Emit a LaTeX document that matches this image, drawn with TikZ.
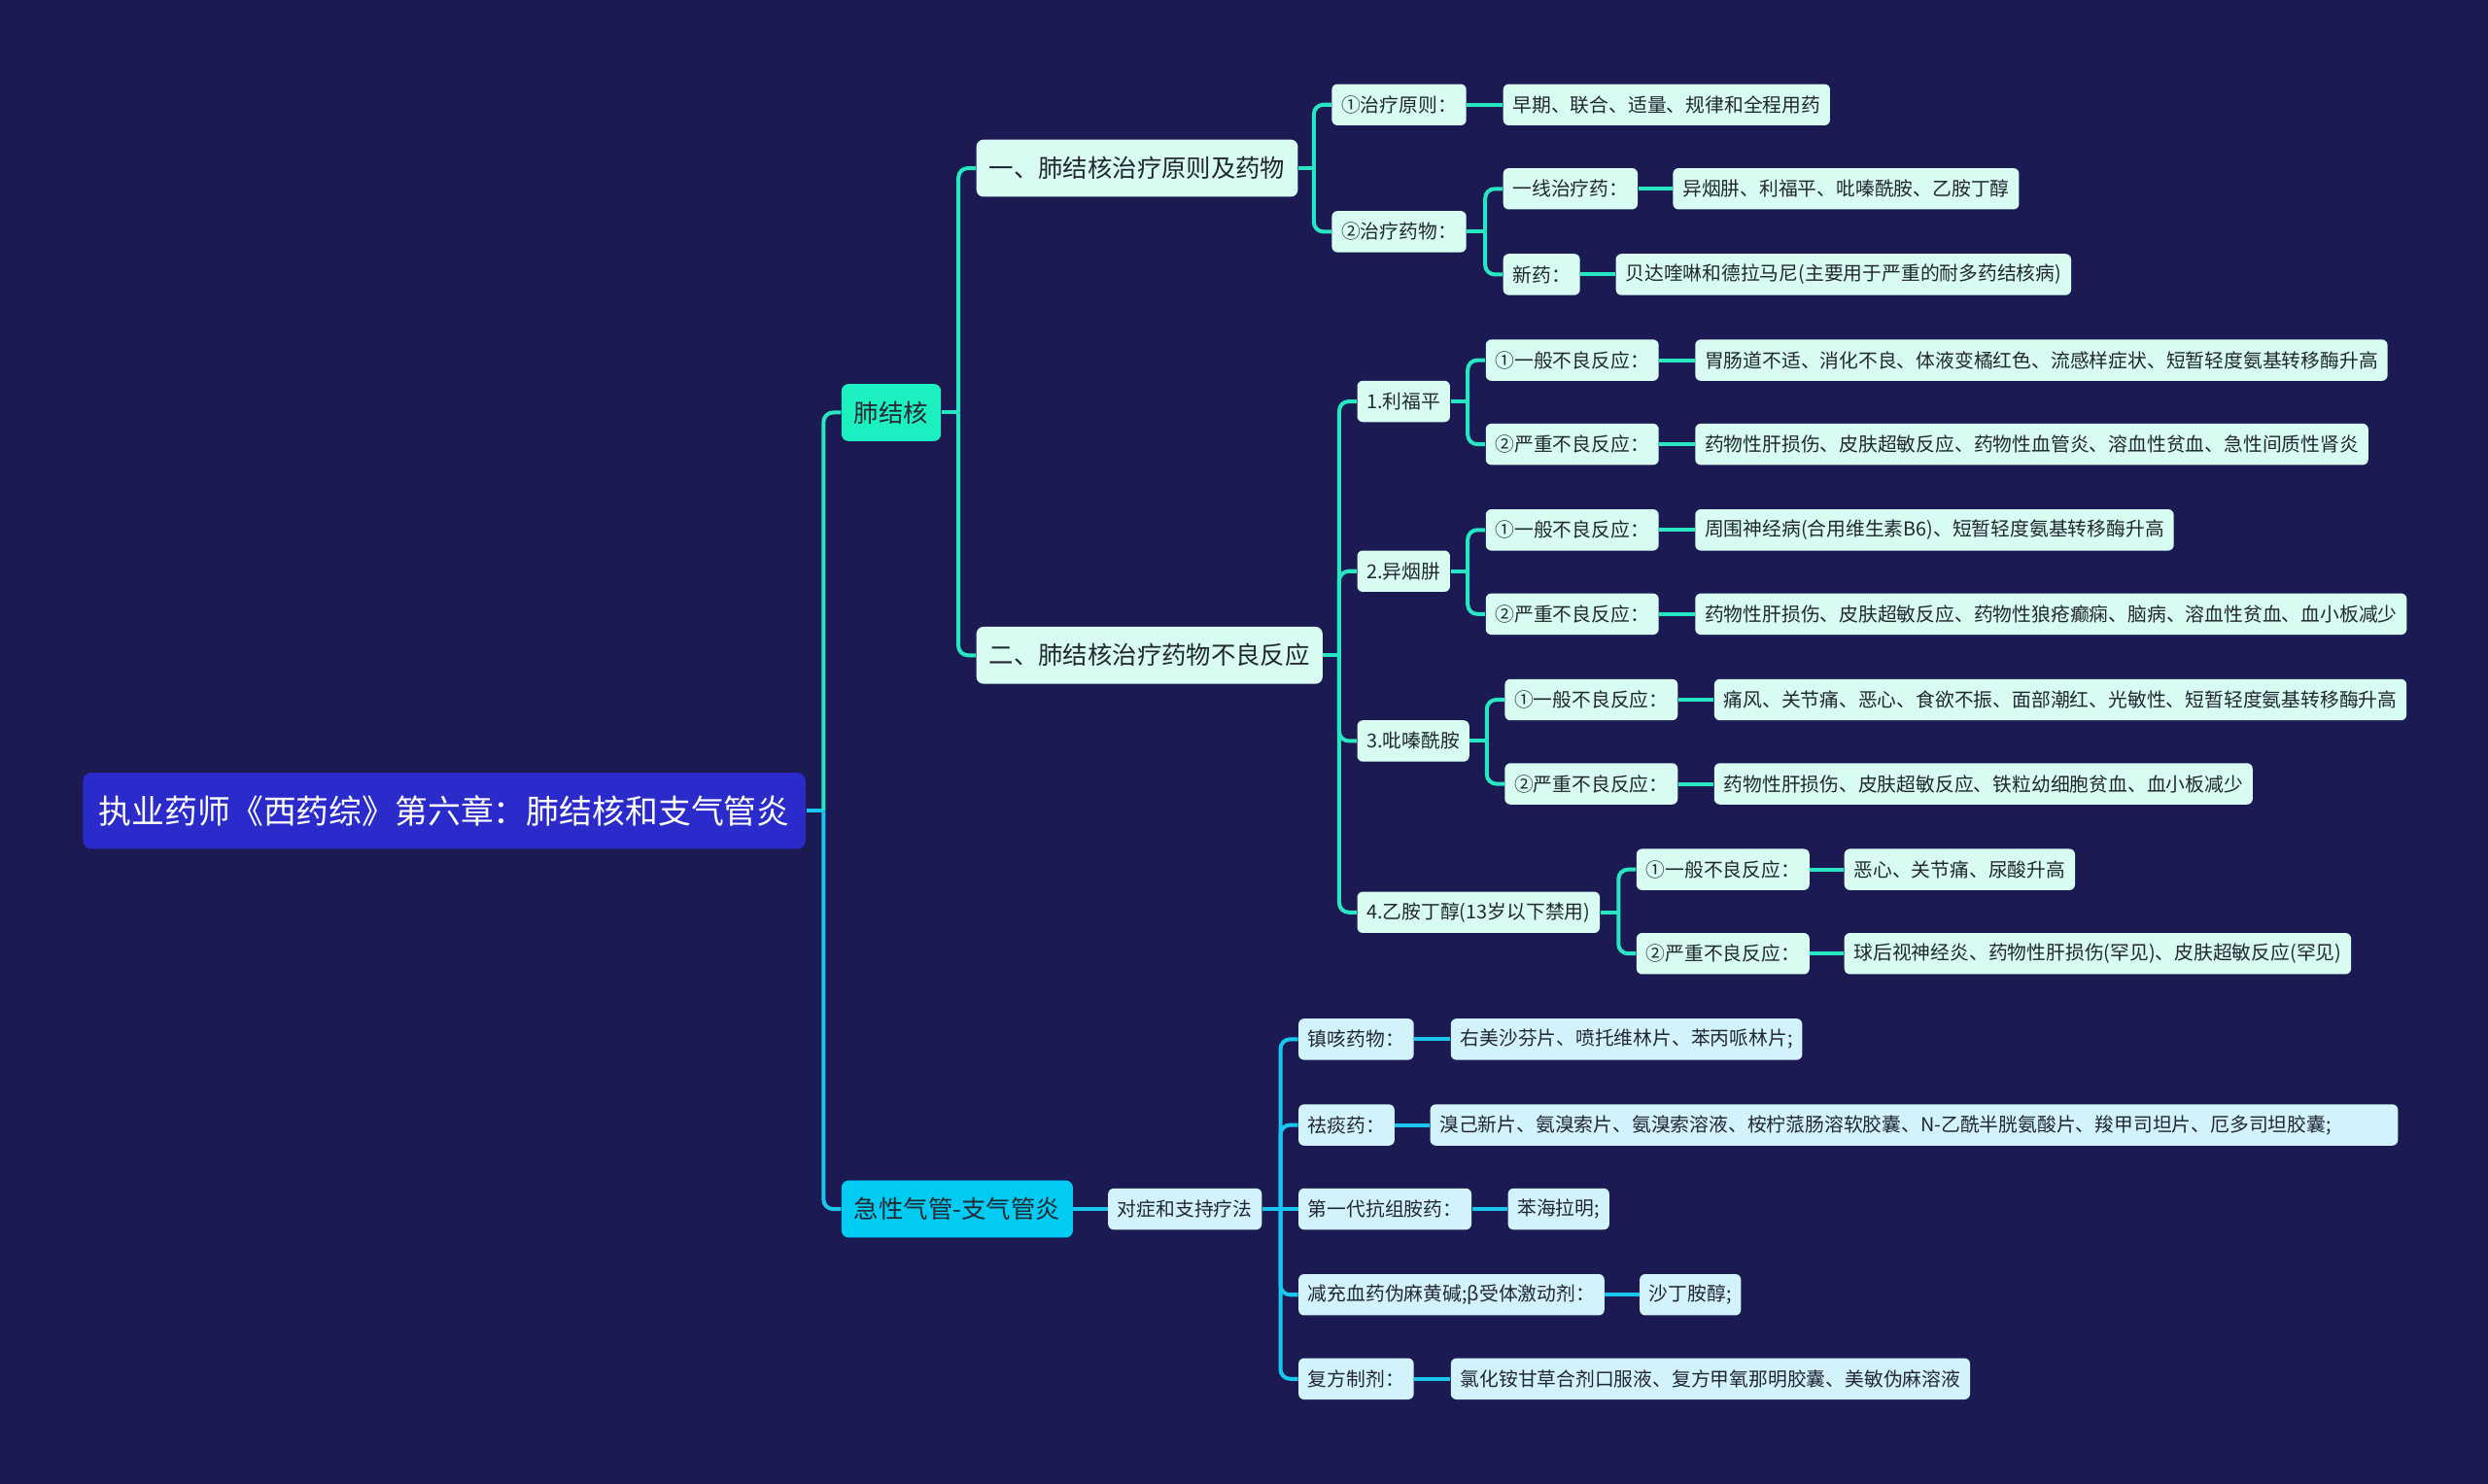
\documentclass[tikz,border=0pt]{standalone}
\usepackage{fontspec}
\newfontfamily\cjk{Noto Sans CJK SC}
\usetikzlibrary{calc}

\definecolor{bgnavy}{HTML}{1B1A52}
\definecolor{rootblue}{HTML}{2B2BCB}
\definecolor{tealmain}{HTML}{1DF0C0}
\definecolor{tealline}{HTML}{28E6C2}
\definecolor{mintfill}{HTML}{D8FCF2}
\definecolor{cyanmain}{HTML}{00CBF2}
\definecolor{cyanline}{HTML}{18C6EE}
\definecolor{icefill}{HTML}{D3F3FC}
\definecolor{inktext}{HTML}{222831}

\tikzset{
  mm-root/.style={anchor=west, rectangle, rounded corners=3pt, fill=rootblue, text=white,
    font=\cjk\fontsize{11.8}{14}\selectfont, minimum height=0.96cm, inner xsep=0.2cm, inner ysep=0pt},
  mm-main-a/.style={anchor=west, rectangle, rounded corners=2.5pt, fill=tealmain, text=inktext,
    font=\cjk\fontsize{8.85}{11}\selectfont, minimum height=0.72cm, inner xsep=0.16cm, inner ysep=0pt},
  mm-main-b/.style={mm-main-a, fill=cyanmain},
  mm-sub-a/.style={mm-main-a, fill=mintfill},
  mm-leaf-a/.style={anchor=west, rectangle, rounded corners=2pt, fill=mintfill, text=inktext,
    font=\cjk\fontsize{6.9}{9}\selectfont, minimum height=0.52cm, inner xsep=0.12cm, inner ysep=0pt},
  mm-leaf-b/.style={mm-leaf-a, fill=icefill},
  mm-line-a/.style={draw=tealline, line width=1.4pt, rounded corners=0.12cm},
  mm-line-b/.style={draw=cyanline, line width=1.4pt, rounded corners=0.12cm},
}

\begin{document}
\begin{tikzpicture}[x=0.02cm, y=-0.02cm]

    % Canvas
    \fill[bgnavy] (0,0) rectangle (1568,935);
    \useasboundingbox (0,0) rectangle (1568,935);

    % Nodes: root and main topics
    \node[mm-root]   (root) at (52, 511)  {执业药师《西药综》第六章：肺结核和支气管炎};
    \node[mm-main-a] (fjh)  at (530, 260) {肺结核};
    \node[mm-main-b] (jxq)  at (530, 762) {急性气管-支气管炎};

    % Nodes: tuberculosis, part one
    \node[mm-sub-a]  (t1)   at (615, 106)  {一、肺结核治疗原则及药物};
    \node[mm-leaf-a] (a1)   at (839, 66)   {①治疗原则：};
    \node[mm-leaf-a] (a1x)  at (947, 66)   {早期、联合、适量、规律和全程用药};
    \node[mm-leaf-a] (a2)   at (839, 146)  {②治疗药物：};
    \node[mm-leaf-a] (a21)  at (947, 119)  {一线治疗药：};
    \node[mm-leaf-a] (a21x) at (1054, 119) {异烟肼、利福平、吡嗪酰胺、乙胺丁醇};
    \node[mm-leaf-a] (a22)  at (947, 173)  {新药：};
    \node[mm-leaf-a] (a22x) at (1018, 173) {贝达喹啉和德拉马尼(主要用于严重的耐多药结核病)};

    % Nodes: tuberculosis, part two
    \node[mm-sub-a]  (t2)   at (615, 413)  {二、肺结核治疗药物不良反应};
    \node[mm-leaf-a] (d1)   at (855, 253)  {1.利福平};
    \node[mm-leaf-a] (d1a)  at (936, 227)  {①一般不良反应：};
    \node[mm-leaf-a] (d1ax) at (1068, 227) {胃肠道不适、消化不良、体液变橘红色、流感样症状、短暂轻度氨基转移酶升高};
    \node[mm-leaf-a] (d1b)  at (936, 280)  {②严重不良反应：};
    \node[mm-leaf-a] (d1bx) at (1068, 280) {药物性肝损伤、皮肤超敏反应、药物性血管炎、溶血性贫血、急性间质性肾炎};
    \node[mm-leaf-a] (d2)   at (855, 360)  {2.异烟肼};
    \node[mm-leaf-a] (d2a)  at (936, 334)  {①一般不良反应：};
    \node[mm-leaf-a] (d2ax) at (1068, 334) {周围神经病(合用维生素B6)、短暂轻度氨基转移酶升高};
    \node[mm-leaf-a] (d2b)  at (936, 387)  {②严重不良反应：};
    \node[mm-leaf-a] (d2bx) at (1068, 387) {药物性肝损伤、皮肤超敏反应、药物性狼疮癫痫、脑病、溶血性贫血、血小板减少};
    \node[mm-leaf-a] (d3)   at (855, 467)  {3.吡嗪酰胺};
    \node[mm-leaf-a] (d3a)  at (948, 441)  {①一般不良反应：};
    \node[mm-leaf-a] (d3ax) at (1080, 441) {痛风、关节痛、恶心、食欲不振、面部潮红、光敏性、短暂轻度氨基转移酶升高};
    \node[mm-leaf-a] (d3b)  at (948, 494)  {②严重不良反应：};
    \node[mm-leaf-a] (d3bx) at (1080, 494) {药物性肝损伤、皮肤超敏反应、铁粒幼细胞贫血、血小板减少};
    \node[mm-leaf-a] (d4)   at (855, 575)  {4.乙胺丁醇(13岁以下禁用)};
    \node[mm-leaf-a] (d4a)  at (1031, 548) {①一般不良反应：};
    \node[mm-leaf-a] (d4ax) at (1162, 548) {恶心、关节痛、尿酸升高};
    \node[mm-leaf-a] (d4b)  at (1031, 601) {②严重不良反应：};
    \node[mm-leaf-a] (d4bx) at (1162, 601) {球后视神经炎、药物性肝损伤(罕见)、皮肤超敏反应(罕见)};

    % Nodes: bronchitis
    \node[mm-leaf-b] (s0)   at (698, 762)  {对症和支持疗法};
    \node[mm-leaf-b] (s1)   at (818, 655)  {镇咳药物：};
    \node[mm-leaf-b] (s1x)  at (914, 655)  {右美沙芬片、喷托维林片、苯丙哌林片;};
    \node[mm-leaf-b] (s2)   at (818, 709)  {祛痰药：};
    \node[mm-leaf-b, minimum width=12.2cm, align=left, text width=11.96cm]
                     (s2x)  at (901, 709)  {溴己新片、氨溴索片、氨溴索溶液、桉柠蒎肠溶软胶囊、N-乙酰半胱氨酸片、羧甲司坦片、厄多司坦胶囊;};
    \node[mm-leaf-b] (s3)   at (818, 762)  {第一代抗组胺药：};
    \node[mm-leaf-b] (s3x)  at (950, 762)  {苯海拉明;};
    \node[mm-leaf-b] (s4)   at (818, 816)  {减充血药伪麻黄碱;β受体激动剂：};
    \node[mm-leaf-b] (s4x)  at (1033, 816) {沙丁胺醇;};
    \node[mm-leaf-b] (s5)   at (818, 869)  {复方制剂：};
    \node[mm-leaf-b] (s5x)  at (914, 869)  {氯化铵甘草合剂口服液、复方甲氧那明胶囊、美敏伪麻溶液};

    % Junctions: one per parent with several children
    \coordinate (j0)   at ($(root.east -| fjh.west)+(-11,0)$);
    \coordinate (jfjh) at ($(fjh.east -| t1.west)+(-11,0)$);
    \coordinate (jt1)  at ($(t1.east -| a1.west)+(-11,0)$);
    \coordinate (ja2)  at ($(a2.east -| a21.west)+(-11,0)$);
    \coordinate (jt2)  at ($(t2.east -| d1.west)+(-11,0)$);
    \coordinate (jd1)  at ($(d1.east -| d1a.west)+(-11,0)$);
    \coordinate (jd2)  at ($(d2.east -| d2a.west)+(-11,0)$);
    \coordinate (jd3)  at ($(d3.east -| d3a.west)+(-11,0)$);
    \coordinate (jd4)  at ($(d4.east -| d4a.west)+(-11,0)$);
    \coordinate (js0)  at ($(s0.east -| s1.west)+(-11,0)$);

    % Edges: root to main topics
    \draw[mm-line-b] (root.east) -- (j0);
    \draw[mm-line-a] (j0) |- (fjh.west);
    \draw[mm-line-b] (j0) |- (jxq.west);

    % Edges: tuberculosis
    \draw[mm-line-a] (fjh.east) -- (jfjh);
    \draw[mm-line-a] (jfjh) |- (t1.west);
    \draw[mm-line-a] (jfjh) |- (t2.west);

    \draw[mm-line-a] (t1.east) -- (jt1);
    \draw[mm-line-a] (jt1) |- (a1.west);
    \draw[mm-line-a] (jt1) |- (a2.west);
    \draw[mm-line-a] (a1.east) -- (a1x.west);
    \draw[mm-line-a] (a2.east) -- (ja2);
    \draw[mm-line-a] (ja2) |- (a21.west);
    \draw[mm-line-a] (ja2) |- (a22.west);
    \draw[mm-line-a] (a21.east) -- (a21x.west);
    \draw[mm-line-a] (a22.east) -- (a22x.west);

    \draw[mm-line-a] (t2.east) -- (jt2);
    \draw[mm-line-a] (jt2) |- (d1.west);
    \draw[mm-line-a] (jt2) |- (d2.west);
    \draw[mm-line-a] (jt2) |- (d3.west);
    \draw[mm-line-a] (jt2) |- (d4.west);

    \draw[mm-line-a] (d1.east) -- (jd1);
    \draw[mm-line-a] (jd1) |- (d1a.west);
    \draw[mm-line-a] (jd1) |- (d1b.west);
    \draw[mm-line-a] (d1a.east) -- (d1ax.west);
    \draw[mm-line-a] (d1b.east) -- (d1bx.west);

    \draw[mm-line-a] (d2.east) -- (jd2);
    \draw[mm-line-a] (jd2) |- (d2a.west);
    \draw[mm-line-a] (jd2) |- (d2b.west);
    \draw[mm-line-a] (d2a.east) -- (d2ax.west);
    \draw[mm-line-a] (d2b.east) -- (d2bx.west);

    \draw[mm-line-a] (d3.east) -- (jd3);
    \draw[mm-line-a] (jd3) |- (d3a.west);
    \draw[mm-line-a] (jd3) |- (d3b.west);
    \draw[mm-line-a] (d3a.east) -- (d3ax.west);
    \draw[mm-line-a] (d3b.east) -- (d3bx.west);

    \draw[mm-line-a] (d4.east) -- (jd4);
    \draw[mm-line-a] (jd4) |- (d4a.west);
    \draw[mm-line-a] (jd4) |- (d4b.west);
    \draw[mm-line-a] (d4a.east) -- (d4ax.west);
    \draw[mm-line-a] (d4b.east) -- (d4bx.west);

    % Edges: bronchitis
    \draw[mm-line-b] (jxq.east) -- (s0.west);
    \draw[mm-line-b] (s0.east) -- (js0);
    \draw[mm-line-b] (js0) |- (s1.west);
    \draw[mm-line-b] (js0) |- (s2.west);
    \draw[mm-line-b] (js0) -- (s3.west);
    \draw[mm-line-b] (js0) |- (s4.west);
    \draw[mm-line-b] (js0) |- (s5.west);
    \draw[mm-line-b] (s1.east) -- (s1x.west);
    \draw[mm-line-b] (s2.east) -- (s2x.west);
    \draw[mm-line-b] (s3.east) -- (s3x.west);
    \draw[mm-line-b] (s4.east) -- (s4x.west);
    \draw[mm-line-b] (s5.east) -- (s5x.west);

\end{tikzpicture}
\end{document}
